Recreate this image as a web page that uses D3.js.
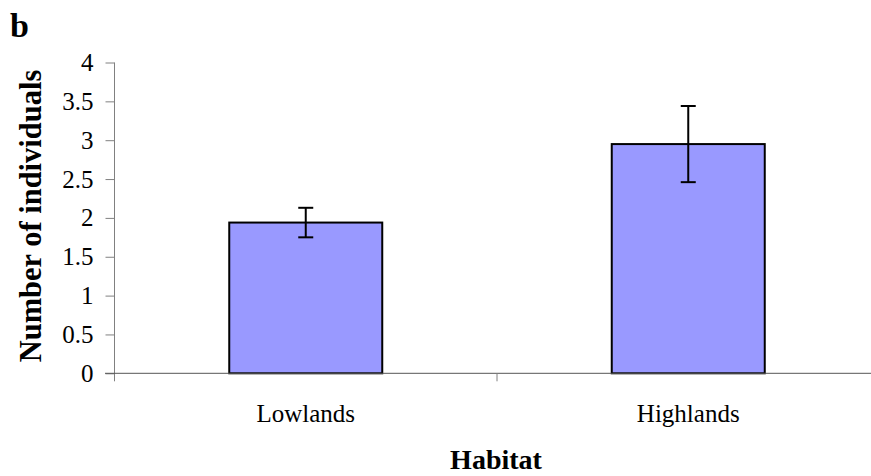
<!DOCTYPE html>
<html>
<head>
<meta charset="utf-8">
<script src="https://cdn.jsdelivr.net/npm/d3@7"></script>
<style>
  body { margin: 0; background: white; }
  svg text { font-family: "Liberation Serif", "Times New Roman", Times, serif; }
</style>
</head>
<body>
<div id="canvas"></div>
<script>
var width = 871;
var height = 476;

// chart data
const categories = ["Lowlands", "Highlands"];
const means = [1.94, 2.95];
const errors = [0.19, 0.49];
const yTicks = [0, 0.5, 1, 1.5, 2, 2.5, 3, 3.5, 4];

const data = categories.map((c, i) => ({ cat: c, mean: means[i], err: errors[i] }));

const serif = "Liberation Serif, Times New Roman, serif";

var svg = d3.select("#canvas").append("svg")
    .attr("width", width)
    .attr("height", height)
    .attr("font-family", serif)
    .style("background-color", "white");

const x = d3.scaleBand()
    .domain(categories)
    .range([114.5, 879.5])
    .paddingInner(0.6)
    .paddingOuter(0.3);

const y = d3.scaleLinear()
    .domain([0, 4])
    .range([373.3, 62.5]);

const axisColor = "#808080";

// y axis
const yAxis = svg.append("g")
    .attr("transform", "translate(114.5,0)")
    .call(d3.axisLeft(y)
        .tickValues(yTicks)
        .tickFormat(d => String(d))
        .tickSize(9)
        .tickSizeOuter(0)
        .tickPadding(12))
    .attr("font-family", serif)
    .attr("font-size", 25);
yAxis.select(".domain").attr("stroke", axisColor).attr("d", `M0,${y(4)}V${y(0) + 8}`);
yAxis.selectAll(".tick line").attr("stroke", axisColor);
yAxis.selectAll(".tick text").attr("fill", "#000");

// bars
svg.selectAll(".bar")
    .data(data)
    .enter().append("rect")
    .attr("class", "bar")
    .attr("x", d => x(d.cat))
    .attr("width", x.bandwidth())
    .attr("y", d => y(d.mean))
    .attr("height", d => y(0) - y(d.mean))
    .style("fill", "#9999ff")
    .style("stroke", "#000")
    .style("stroke-width", 2);

// x axis line and category boundary ticks
svg.append("line")
    .attr("x1", 105).attr("x2", width)
    .attr("y1", y(0)).attr("y2", y(0))
    .attr("stroke", "#555")
    .attr("stroke-width", 1);

const step = x.step();
const bounds = categories.slice(1).map(c => x(c) + x.bandwidth() / 2 - step / 2);
svg.selectAll(".xb")
    .data(bounds)
    .enter().append("line")
    .attr("x1", d => d).attr("x2", d => d)
    .attr("y1", y(0)).attr("y2", y(0) + 8)
    .attr("stroke", axisColor);

// x labels
const xAxis = svg.append("g")
    .attr("transform", `translate(0,${y(0)})`)
    .call(d3.axisBottom(x).tickSize(0).tickPadding(31))
    .attr("font-family", serif)
    .attr("font-size", 25);
xAxis.select(".domain").remove();
xAxis.selectAll(".tick text").attr("fill", "#000");

// error bars
const eb = svg.selectAll(".err")
    .data(data)
    .enter().append("g")
    .attr("class", "err")
    .attr("stroke", "#000")
    .attr("stroke-width", 2);
eb.append("line")
    .attr("x1", d => x(d.cat) + x.bandwidth() / 2)
    .attr("x2", d => x(d.cat) + x.bandwidth() / 2)
    .attr("y1", d => y(d.mean + d.err))
    .attr("y2", d => y(d.mean - d.err));
eb.append("line")
    .attr("x1", d => x(d.cat) + x.bandwidth() / 2 - 7.5)
    .attr("x2", d => x(d.cat) + x.bandwidth() / 2 + 7.5)
    .attr("y1", d => y(d.mean + d.err))
    .attr("y2", d => y(d.mean + d.err));
eb.append("line")
    .attr("x1", d => x(d.cat) + x.bandwidth() / 2 - 7.5)
    .attr("x2", d => x(d.cat) + x.bandwidth() / 2 + 7.5)
    .attr("y1", d => y(d.mean - d.err))
    .attr("y2", d => y(d.mean - d.err));

// titles
svg.append("text")
    .attr("x", 496).attr("y", 469)
    .attr("text-anchor", "middle")
    .style("font-weight", "bold")
    .style("font-size", "28px")
    .text("Habitat");

svg.append("text")
    .attr("transform", "translate(41,216) rotate(-90)")
    .attr("text-anchor", "middle")
    .style("font-weight", "bold")
    .style("font-size", "30.5px")
    .text("Number of individuals");

svg.append("text")
    .attr("x", 10).attr("y", 37)
    .style("font-weight", "bold")
    .style("font-size", "34px")
    .text("b");
</script>
</body>
</html>
